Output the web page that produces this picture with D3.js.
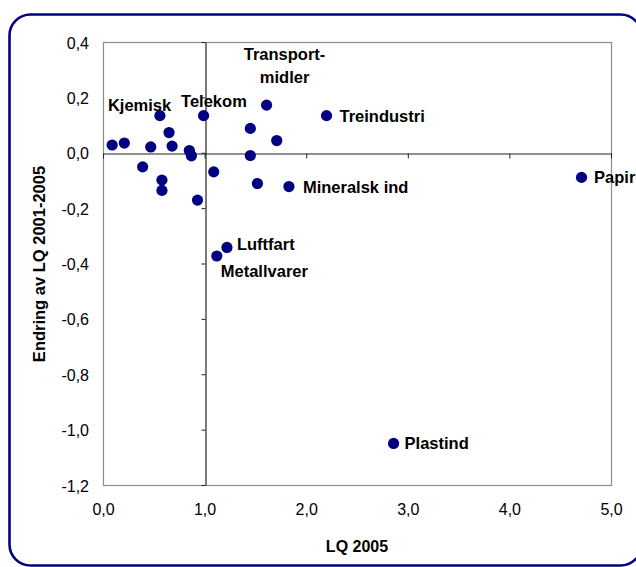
<!DOCTYPE html>
<html>
<head>
<meta charset="utf-8">
<script src="https://cdn.jsdelivr.net/npm/d3@7"></script>
<style>
  html, body { margin: 0; padding: 0; background: #fff; }
  svg { display: block; font-family: "Liberation Sans", Arial, sans-serif; }
</style>
</head>
<body>
<div id="chart"></div>
<script>
// bransjer: LQ 2005 mot endring i LQ 2001-2005
var bransjer = ["p1", "p2", "Kjemisk", "p4", "p5", "p6", "p7", "p8", "p9", "p10", "p11", "p12",
  "Telekom", "p14", "p15", "p16", "Transport-midler", "p18", "p19", "Mineralsk ind", "Treindustri",
  "Luftfart", "Metallvarer", "Papir", "Plastind"];
var lq2005 = [0.09, 0.21, 0.56, 0.65, 0.47, 0.68, 0.85, 0.87, 0.39, 0.58, 0.58, 0.93,
  0.99, 1.09, 1.45, 1.45, 1.61, 1.71, 1.52, 1.83, 2.20,
  1.22, 1.12, 4.71, 2.86];
var endring = [0.028, 0.035, 0.134, 0.073, 0.021, 0.024, 0.008, -0.011, -0.051, -0.099, -0.136, -0.171,
  0.134, -0.069, 0.088, -0.010, 0.172, 0.044, -0.111, -0.122, 0.134,
  -0.342, -0.373, -0.089, -1.05];
var xTicks = [0, 1, 2, 3, 4, 5];
var yTicks = [-1.2, -1.0, -0.8, -0.6, -0.4, -0.2, 0, 0.2, 0.4];

// plassering av etiketter relativt til punktet (dx, dy, anker)
var etikett = {
  "Kjemisk": [-52, -4.5, "start"],
  "Telekom": [-22.5, -9, "start"],
  "Transport-midler": [18, -45, "middle"],
  "Mineralsk ind": [14, 6.6, "start"],
  "Treindustri": [13, 6.7, "start"],
  "Luftfart": [10, 3, "start"],
  "Metallvarer": [4, 21.3, "start"],
  "Papir": [12.5, 5.5, "start"],
  "Plastind": [11, 6, "start"]
};

var width = 636, height = 567;
var m = {left: 103, right: 611, top: 42, bottom: 485};

var loc = d3.formatLocale({decimal: ",", thousands: " ", grouping: [3], currency: ["", " kr"], minus: "-"});
var fmt = loc.format(".1f");

var svg = d3.select("#chart").append("svg")
  .attr("width", width).attr("height", height);

// ramme rundt hele figuren
svg.append("rect")
  .attr("x", 9.5).attr("y", 14.5)
  .attr("width", 632).attr("height", 551)
  .attr("rx", 21).attr("ry", 21)
  .attr("fill", "none")
  .attr("stroke", "#000080")
  .attr("stroke-width", 2.6);

var x = d3.scaleLinear().domain([0, 5]).range([m.left, m.right]);
var y = d3.scaleLinear().domain([-1.2, 0.4]).range([m.bottom, m.top]);

// plotteomraade
svg.append("rect")
  .attr("x", m.left + 0.5).attr("y", m.top + 0.5)
  .attr("width", m.right - m.left).attr("height", m.bottom - m.top)
  .attr("fill", "none")
  .attr("stroke", "#8c8c8c")
  .attr("stroke-width", 1.2);

// tall paa aksene
var yLab = svg.append("g")
  .attr("transform", "translate(" + (m.left - 10) + ",0)")
  .call(d3.axisLeft(y).tickValues(yTicks).tickFormat(d => fmt(Math.abs(d) < 1e-9 ? 0 : d)).tickSize(0).tickPadding(4));
yLab.select(".domain").remove();
yLab.selectAll("text").attr("font-size", 16).attr("font-family", "Liberation Sans, Arial").attr("fill", "#000").attr("dy", "0.38em");

var xLab = svg.append("g")
  .attr("transform", "translate(0," + (m.bottom + 15) + ")")
  .call(d3.axisBottom(x).tickValues(xTicks).tickFormat(fmt).tickSize(0).tickPadding(4));
xLab.select(".domain").remove();
xLab.selectAll("text").attr("font-size", 16).attr("font-family", "Liberation Sans, Arial").attr("fill", "#000");

// akser gjennom (1, 0)
var yAxis = svg.append("g")
  .attr("transform", "translate(" + (Math.round(x(1)) + 0.5) + ",0)")
  .call(d3.axisLeft(y).tickValues(yTicks).tickFormat("").tickSizeInner(4).tickSizeOuter(0));
yAxis.select(".domain").attr("stroke", "#222").attr("stroke-width", 1.2);
yAxis.selectAll(".tick line").attr("stroke", "#222");

var xAxis = svg.append("g")
  .attr("transform", "translate(0," + (Math.round(y(0)) + 0.5) + ")")
  .call(d3.axisBottom(x).tickValues(xTicks).tickFormat("").tickSizeInner(5).tickSizeOuter(0));
xAxis.select(".domain").attr("stroke", "#222").attr("stroke-width", 1.2);
xAxis.selectAll(".tick line").attr("stroke", "#222");

// aksetitler
svg.append("text")
  .attr("x", (m.left + m.right) / 2).attr("y", 552)
  .attr("text-anchor", "middle")
  .attr("font-size", 16).attr("font-weight", "bold")
  .text("LQ 2005");
svg.append("text")
  .attr("transform", "translate(45,264) rotate(-90)")
  .attr("text-anchor", "middle")
  .attr("font-size", 16.5).attr("font-weight", "bold")
  .text("Endring av LQ 2001-2005");

// punkter
var data = bransjer.map((n, i) => ({navn: n, lq: lq2005[i], d: endring[i]}));
svg.append("g").selectAll("circle").data(data).join("circle")
  .attr("cx", d => x(d.lq))
  .attr("cy", d => y(d.d))
  .attr("r", 5.6)
  .attr("fill", "#000080");

// etiketter
var lab = svg.append("g").selectAll("text")
  .data(data.filter(d => etikett[d.navn])).join("text")
  .attr("x", d => x(d.lq) + etikett[d.navn][0])
  .attr("y", d => y(d.d) + etikett[d.navn][1])
  .attr("text-anchor", d => etikett[d.navn][2])
  .attr("font-size", 16.5).attr("font-weight", "bold")
  .attr("fill", "#000");
lab.each(function(d) {
  var t = d3.select(this);
  if (d.navn == "Transport-midler") {
    t.append("tspan").attr("x", x(d.lq) + etikett[d.navn][0]).text("Transport-");
    t.append("tspan").attr("x", x(d.lq) + etikett[d.navn][0]).attr("dy", 22.6).text("midler");
  } else {
    t.text(d.navn);
  }
});
</script>
</body>
</html>
